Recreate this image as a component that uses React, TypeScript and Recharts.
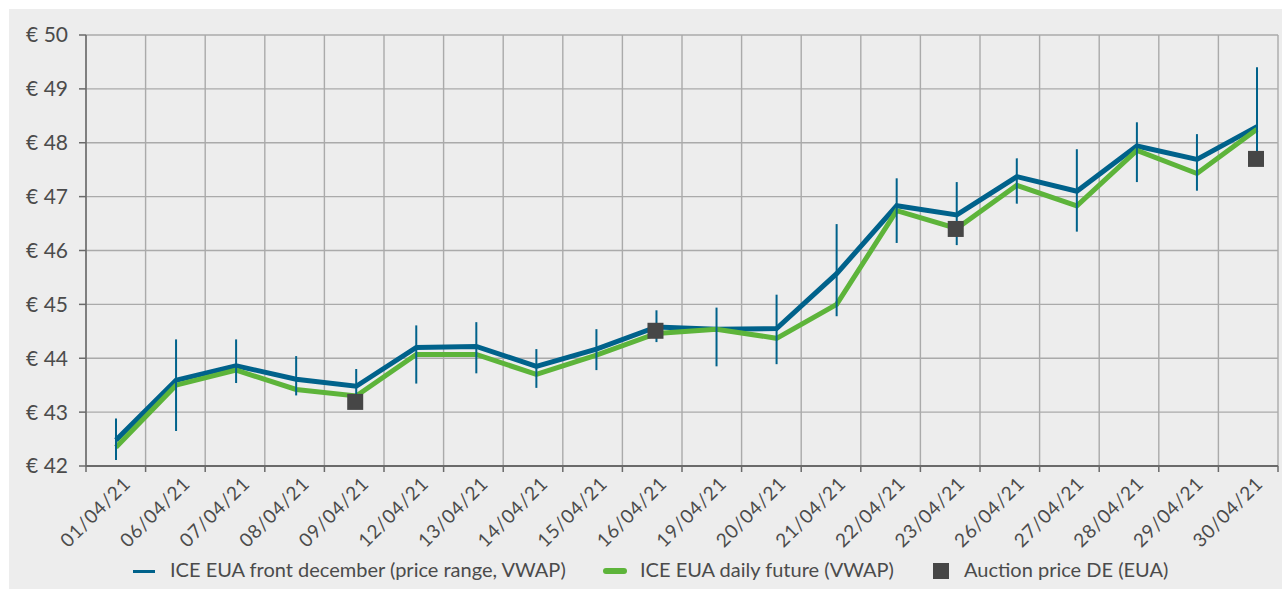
import { ComposedChart, Line, ErrorBar, XAxis, YAxis, CartesianGrid } from "recharts"

const dates = [
    "01/04/21", "06/04/21", "07/04/21", "08/04/21", "09/04/21",
    "12/04/21", "13/04/21", "14/04/21", "15/04/21", "16/04/21",
    "19/04/21", "20/04/21", "21/04/21", "22/04/21", "23/04/21",
    "26/04/21", "27/04/21", "28/04/21", "29/04/21", "30/04/21",
]
// ICE EUA front december, VWAP
const frontVwap = [
    42.48, 43.59, 43.86, 43.61, 43.48, 44.2, 44.22, 43.85, 44.17, 44.58,
    44.54, 44.55, 45.57, 46.83, 46.66, 47.37, 47.1, 47.94, 47.69, 48.3,
]
// price range low / high
const frontLow = [
    42.11, 42.65, 43.54, 43.31, 43.16, 43.53, 43.72, 43.45, 43.78, 44.3,
    43.85, 43.89, 44.78, 46.14, 46.1, 46.87, 46.35, 47.27, 47.11, 47.65,
]
const frontHigh = [
    42.88, 44.35, 44.35, 44.04, 43.8, 44.61, 44.67, 44.17, 44.54, 44.89,
    44.94, 45.18, 46.49, 47.34, 47.27, 47.71, 47.88, 48.38, 48.16, 49.4,
]
// ICE EUA daily future, VWAP
const dailyVwap = [
    42.35, 43.5, 43.78, 43.42, 43.3, 44.07, 44.07, 43.7, 44.06, 44.46,
    44.54, 44.37, 45.0, 46.74, 46.41, 47.21, 46.83, 47.86, 47.43, 48.25,
]
// Auction price DE
const auction = [
    null, null, null, null, 43.19, null, null, null, null, 44.51,
    null, null, null, null, 46.4, null, null, null, null, 47.7,
]
const yTicks = [42, 43, 44, 45, 46, 47, 48, 49, 50]

const data = dates.map((date, i) => ({
    date,
    front: frontVwap[i],
    low: frontLow[i],
    high: frontHigh[i],
    daily: dailyVwap[i],
    auction: auction[i],
}))

const BLUE = "#00628b"
const GREEN = "#5db43a"
const SQUARE = "#464646"
const TEXT = "#4b4b4b"
const GRID = "#aaaaaa"
const AXIS = "#6a6a6a"
const FONT = "Lato, 'Open Sans', sans-serif"

const W = 1282
const H = 591
const M = { top: 35, right: 4, bottom: 0, left: 0 }
const Y_W = 86
const PLOT_W = W - M.left - M.right - Y_W
const BAND = PLOT_W / dates.length

const XTick = (props: any) => {
    const { x, y, payload, index } = props
    const tx = x + 16
    const ty = y + 19
    return (
        <g>
            <line x1={x - BAND / 2} x2={x - BAND / 2} y1={y} y2={y + 6} stroke={AXIS} strokeWidth={1.5} />
            {index === dates.length - 1 && (
                <line x1={x + BAND / 2} x2={x + BAND / 2} y1={y} y2={y + 6} stroke={AXIS} strokeWidth={1.5} />
            )}
            <text
                x={tx}
                y={ty}
                transform={`rotate(-45, ${tx}, ${ty})`}
                textAnchor="end"
                fill={TEXT}
                fontSize={19}
                letterSpacing={0.8}
                fontFamily={FONT}
            >
                {payload.value}
            </text>
        </g>
    )
}

const SquareDot = (props: any) => {
    const { cx, cy, index } = props
    if (cy == null || cx == null) return <g key={index} />
    return <rect key={index} x={cx - 9} y={cy - 8} width={16} height={16} fill={SQUARE} />
}

const legendText = { position: "absolute" as const, top: 557, lineHeight: "24px", fontSize: 20, color: TEXT, whiteSpace: "nowrap" as const }

const App = () => {
    return (
        <div style={{ position: "relative", width: W, height: H, background: "#fff", fontFamily: FONT }}>
            <style>{`body{margin:0}`}</style>
            <div style={{ position: "absolute", left: 9, top: 9, width: W - 9, height: H - 11, background: "#ededed" }} />
            <div style={{ position: "absolute", left: 0, top: 0 }}>
                <ComposedChart width={W} height={H} data={data} margin={M}>
                    <CartesianGrid
                        xAxisId="pts"
                        stroke={GRID}
                        strokeWidth={1.4}
                        verticalCoordinatesGenerator={({ offset }: any) =>
                            dates.map((_, i) => offset.left + i * (offset.width / dates.length)).concat(offset.left + offset.width)
                        }
                    />
                    <XAxis
                        xAxisId="cat"
                        dataKey="date"
                        height={125}
                        interval={0}
                        padding={{ left: BAND / 2, right: BAND / 2 }}
                        tickLine={false}
                        tickSize={0}
                        tickMargin={0}
                        axisLine={{ stroke: AXIS, strokeWidth: 2 }}
                        tick={<XTick />}
                    />
                    <XAxis xAxisId="pts" dataKey="date" hide padding={{ left: 30, right: 21 }} />
                    <YAxis
                        width={Y_W}
                        domain={[42, 50]}
                        ticks={yTicks}
                        interval={0}
                        tickFormatter={(v: number) => `€ ${v}`}
                        tickSize={7}
                        tickMargin={11}
                        tickLine={{ stroke: AXIS, strokeWidth: 1.5 }}
                        axisLine={{ stroke: AXIS, strokeWidth: 1.5 }}
                        tick={{ fill: TEXT, fontSize: 21, fontFamily: FONT }}
                    />
                    <Line
                        xAxisId="pts"
                        dataKey="front"
                        stroke={BLUE}
                        strokeWidth={5}
                        dot={false}
                        activeDot={false}
                        isAnimationActive={false}
                    />
                    <Line
                        xAxisId="pts"
                        dataKey="daily"
                        stroke={GREEN}
                        strokeWidth={5}
                        dot={false}
                        activeDot={false}
                        isAnimationActive={false}
                    />
                    <Line
                        xAxisId="pts"
                        dataKey="auction"
                        stroke="none"
                        dot={SquareDot}
                        activeDot={false}
                        isAnimationActive={false}
                    />
                    <Line
                        xAxisId="pts"
                        dataKey="front"
                        stroke="none"
                        dot={false}
                        activeDot={false}
                        isAnimationActive={false}
                    >
                        <ErrorBar
                            dataKey={(d: any) => [d.front - d.low, d.high - d.front]}
                            width={0}
                            stroke={BLUE}
                            strokeWidth={2}
                            direction="y"
                            isAnimationActive={false}
                        />
                    </Line>
                </ComposedChart>
            </div>
            <div style={{ position: "absolute", left: 133, top: 570, width: 22, height: 3, background: BLUE }} />
            <div style={{ ...legendText, left: 170 }}>ICE EUA front december (price range, VWAP)</div>
            <div style={{ position: "absolute", left: 603, top: 568, width: 24, height: 6, borderRadius: 3, background: GREEN }} />
            <div style={{ ...legendText, left: 640 }}>ICE EUA daily future (VWAP)</div>
            <div style={{ position: "absolute", left: 933, top: 563, width: 16, height: 16, background: SQUARE }} />
            <div style={{ ...legendText, left: 964 }}>Auction price DE (EUA)</div>
        </div>
    )
}

export default App
